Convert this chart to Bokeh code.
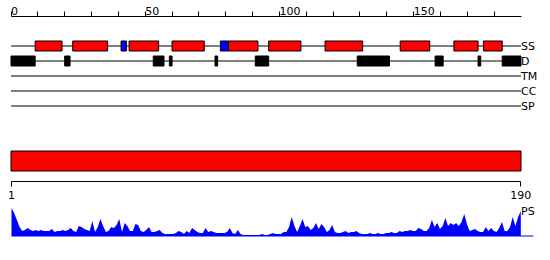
from bokeh.plotting import figure
from bokeh.models import Range1d, LinearAxis, FixedTicker
from bokeh.core.properties import value
from bokeh.embed import file_html
from bokeh.resources import INLINE

# ---------------- data ----------------
seq_len = 190

top_ticks = [0, 50, 100, 150]
top_tick_labels = ["0", "50", "100", "150"]
top_minor_ticks = [10, 20, 30, 40, 60, 70, 80, 90, 110, 120, 130, 140, 160, 170, 180]
bottom_ticks = [1, 190]

track_names = ["SS", "D", "TM", "CC", "SP"]

# secondary structure: helices (red) and strands (blue), residue ranges
helix_start = [10, 24, 45, 61, 82, 97, 118, 146, 166, 177]
helix_end = [19, 36, 55, 72, 92, 108, 131, 156, 174, 183]
strand_start = [42, 79]
strand_end = [43, 81]

# disorder (black), residue ranges
dis_start = [1, 21, 54, 60, 77, 92, 130, 159, 175, 184]
dis_end = [9, 22, 57, 60, 77, 96, 141, 161, 175, 190]

# domain bar (whole sequence)
domain_start = [1]
domain_end = [190]

# PS profile, one value per residue
residues = list(range(1, seq_len + 1))
ps_values = [
    28, 23, 16, 9, 5, 6, 8, 6, 5, 6,
    5, 6, 5, 5, 5, 7, 4, 5, 5, 6,
    5, 6, 8, 5, 4, 10, 9, 7, 6, 5,
    15, 4, 9, 17, 10, 4, 5, 9, 8, 11,
    17, 4, 13, 10, 5, 5, 12, 11, 5, 4,
    6, 9, 4, 4, 5, 6, 3, 2, 2, 2,
    2, 3, 5, 4, 2, 5, 3, 8, 6, 4,
    3, 3, 8, 4, 5, 4, 3, 3, 3, 3,
    4, 8, 3, 2, 6, 2, 1, 1, 1, 1,
    1, 1, 1, 2, 1, 1, 2, 3, 2, 2,
    2, 4, 4, 9, 19, 10, 4, 10, 17, 9,
    10, 6, 8, 13, 7, 12, 9, 4, 6, 11,
    4, 3, 3, 4, 5, 3, 4, 4, 5, 3,
    2, 2, 2, 3, 2, 2, 3, 2, 2, 3,
    3, 4, 3, 3, 5, 4, 5, 5, 6, 5,
    5, 8, 7, 5, 5, 8, 16, 9, 13, 7,
    10, 18, 10, 13, 11, 13, 10, 14, 22, 12,
    5, 6, 7, 5, 4, 4, 9, 5, 8, 5,
    4, 8, 14, 5, 5, 9, 19, 10, 19, 25,
]

# ---------------- layout (pixels) ----------------
W, H = 550, 260
RULER_X0, RULER_X1 = 10.5, 520.5      # position 0 .. seq_len
RES_X0, RES_X1 = 11.0, 520.3          # residue 1 .. seq_len
TOP_AXIS_Y = 15.5
TRACK_Y = {"SS": 45.5, "D": 60.5, "TM": 75.5, "CC": 90.5, "SP": 105.5}
BOX_HALF = 5
DOMAIN_TOP, DOMAIN_BOTTOM = 150.5, 170.5
BOTTOM_AXIS_Y = 180.5
PS_ZERO_Y = 235.5
PS_LABEL_Y = 211
PS_LINE_END = 194.7
FONT = "DejaVu Sans"
FS = "11px"
RED, BLUE = "#ff0000", "#0000ff"

ppu = (RULER_X1 - RULER_X0) / seq_len
x_range = Range1d(-RULER_X0 / ppu, seq_len + (W - RULER_X1) / ppu)
rpu = (RES_X1 - RES_X0) / (seq_len - 1)
res_range = Range1d(1 - RES_X0 / rpu, seq_len + (W - RES_X1) / rpu)

p = figure(width=W, height=H, output_backend="svg", toolbar_location=None,
           x_range=x_range, y_range=Range1d(H, 0),
           x_axis_location=None, y_axis_location=None,
           min_border=0, outline_line_color=None)
p.extra_x_ranges = {"res": res_range}
p.extra_y_ranges = {"ps": Range1d(-(H - PS_ZERO_Y), PS_ZERO_Y)}
p.grid.visible = False

# top ruler
top_axis = LinearAxis(fixed_location=TOP_AXIS_Y,
                      ticker=FixedTicker(ticks=top_ticks, minor_ticks=top_minor_ticks),
                      bounds=(0, seq_len),
                      major_tick_in=0, major_tick_out=5,
                      minor_tick_in=0, minor_tick_out=5,
                      axis_line_color="black", major_tick_line_color="black",
                      minor_tick_line_color="black",
                      major_label_text_color=None)
p.add_layout(top_axis, "above")
p.text(x=top_ticks, y=[10] * len(top_ticks), text=top_tick_labels,
       text_font=value(FONT), text_font_size=value(FS),
       text_align="left", text_baseline="alphabetic", text_color="black")

# track lines and labels
ty = [TRACK_Y[n] for n in track_names]
p.segment(x0=[0] * len(ty), x1=[seq_len] * len(ty), y0=ty, y1=ty,
          line_color="black", line_width=1)
p.text(x=[seq_len] * len(ty), y=ty, text=track_names,
       text_font=value(FONT), text_font_size=value(FS),
       text_align="left", text_baseline="middle", text_color="black")

# SS boxes
ss = TRACK_Y["SS"]
p.quad(left=[s - 1 for s in helix_start], right=helix_end,
       top=ss - BOX_HALF, bottom=ss + BOX_HALF,
       fill_color=RED, line_color="black", line_width=1)
p.quad(left=[s - 1 for s in strand_start], right=strand_end,
       top=ss - BOX_HALF, bottom=ss + BOX_HALF,
       fill_color=BLUE, line_color="black", line_width=1)

# disorder boxes
dd = TRACK_Y["D"]
p.quad(left=[s - 1 for s in dis_start], right=dis_end,
       top=dd - BOX_HALF, bottom=dd + BOX_HALF,
       fill_color="black", line_color="black", line_width=1)

# domain bar
p.quad(left=[s - 1 for s in domain_start], right=domain_end,
       top=DOMAIN_TOP, bottom=DOMAIN_BOTTOM,
       fill_color=RED, line_color="black", line_width=1)

# bottom axis (residue numbering)
bottom_axis = LinearAxis(x_range_name="res", fixed_location=BOTTOM_AXIS_Y,
                         ticker=FixedTicker(ticks=bottom_ticks, minor_ticks=[]),
                         bounds=(1, seq_len),
                         major_tick_in=0, major_tick_out=5,
                         minor_tick_in=0, minor_tick_out=0,
                         axis_line_color="black", major_tick_line_color="black",
                         major_label_standoff=5,
                         major_label_text_font=FONT,
                         major_label_text_font_size=FS,
                         major_label_text_color="black")
p.add_layout(bottom_axis, "below")

# PS profile
p.varea(x=residues, y1=[0] * seq_len, y2=ps_values,
        x_range_name="res", y_range_name="ps", fill_color=BLUE)
p.line(x=[1, PS_LINE_END], y=[0, 0], x_range_name="res", y_range_name="ps",
       line_color=BLUE, line_width=1)
p.text(x=[seq_len], y=[PS_LABEL_Y], text=["PS"],
       text_font=value(FONT), text_font_size=value(FS),
       text_align="left", text_baseline="middle", text_color="black")

open("out.html", "w").write(file_html(p, INLINE))
